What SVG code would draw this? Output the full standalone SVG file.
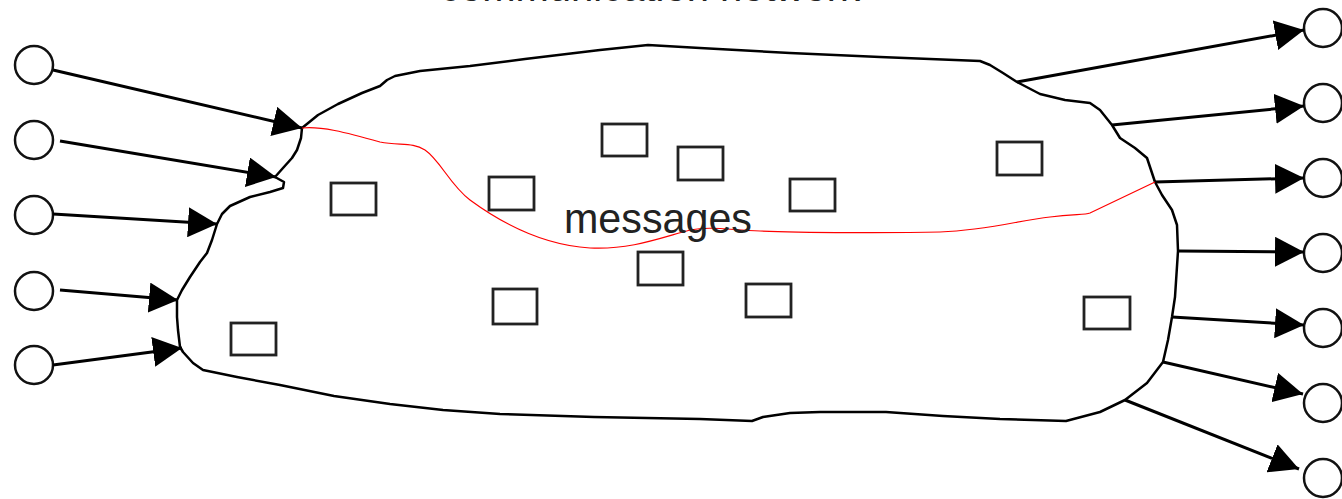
<svg xmlns="http://www.w3.org/2000/svg" width="1342" height="499" viewBox="0 0 1342 499">
<style>
.c{fill:#fff;stroke:#111;stroke-width:2.5}
.b{fill:#fff;stroke:#222;stroke-width:2.8}
.e{stroke:#000;stroke-width:3;fill:none;marker-end:url(#ah)}
.t{font-family:"Liberation Sans",Arial,sans-serif;fill:#222}
</style>
<defs>
<marker id="ah" markerUnits="userSpaceOnUse" markerWidth="30" markerHeight="30" refX="29" refY="15" orient="auto" viewBox="0 0 30 30">
<path d="M0,0 L29,15 L0,30 Z" fill="#000"/>
</marker>
</defs>
<rect width="1342" height="499" fill="#fff"/>
<g id="title"><text class="t" x="440" y="0.5" font-size="42" textLength="420" lengthAdjust="spacingAndGlyphs">communication network</text></g>
<g id="network">
<path fill="none" stroke="#000" stroke-width="2.5" stroke-linejoin="round" d="M302,128 L318,115 L338,104 L362,93 L380,86 L387,80 L395,76 L420,71 L470,66 L525,59 L600,50 L648,45 L700,48 L790,53 L880,57 L980,61 L990,65 L1003,73 L1017,82 L1040,94 L1065,100 L1090,103 L1100,110 L1112,125 L1120,138 L1135,148 L1147,158 L1155,182 L1162,195 L1172,210 L1177,225 L1178,251 L1175,297 L1172,317 L1168,340 L1163,362 L1147,383 L1125,400 L1100,412 L1066,421 L1000,419 L943,416 L886,412 L820,412 L790,413 L763,417 L752,421 L700,419 L594,417 L500,414 L443,410 L390,404 L334,396 L280,385 L237,377 L203,370 L193,363 L183,352 L180,347 L178,330 L177,317 L177,300 L182,290 L190,277 L200,262 L207,253 L212,240 L217,224 L222,214 L230,206 L250,197 L270,192 L283,188 L284,182 L275,177 L283,168 L292,158 L297,150 L301,138 Z"/>
</g>
<g id="route">
<path fill="none" stroke="#f00" stroke-width="1.2" d="M302,128 C320,126 345,132 380,142 C400,146 412,142 425,150 C440,160 450,185 470,200 C500,222 540,245 590,248 C630,250 660,238 690,230 C710,226 730,230 760,231 C800,233 900,233 940,232 C990,230 1020,220 1050,217 C1075,214 1085,215 1090,213 L1155,182"/>
</g>
<g id="label"><text class="t" x="564" y="233" font-size="43" textLength="188" lengthAdjust="spacingAndGlyphs">messages</text></g>
<g id="messages">
<rect id="m1" class="b" x="331" y="183" width="45" height="32"/>
<rect id="m2" class="b" x="489" y="177" width="45" height="33"/>
<rect id="m3" class="b" x="602" y="124" width="45" height="32"/>
<rect id="m4" class="b" x="678" y="147" width="45" height="33"/>
<rect id="m5" class="b" x="790" y="179" width="45" height="32"/>
<rect id="m6" class="b" x="997" y="142" width="45" height="33"/>
<rect id="m7" class="b" x="638" y="252" width="45" height="33"/>
<rect id="m8" class="b" x="493" y="289" width="44" height="35"/>
<rect id="m9" class="b" x="746" y="284" width="45" height="33"/>
<rect id="m10" class="b" x="231" y="323" width="45" height="32"/>
<rect id="m11" class="b" x="1084" y="297" width="46" height="32"/>
</g>
<g id="in1"><circle class="c" cx="34" cy="65" r="19"/></g>
<g id="in2"><circle class="c" cx="34" cy="140" r="19"/></g>
<g id="in3"><circle class="c" cx="34" cy="215" r="19"/></g>
<g id="in4"><circle class="c" cx="34" cy="291" r="19"/></g>
<g id="in5"><circle class="c" cx="34" cy="365" r="19"/></g>
<g id="out1"><circle class="c" cx="1323" cy="28" r="19"/></g>
<g id="out2"><circle class="c" cx="1323" cy="103" r="19"/></g>
<g id="out3"><circle class="c" cx="1323" cy="178" r="19"/></g>
<g id="out4"><circle class="c" cx="1323" cy="253" r="19"/></g>
<g id="out5"><circle class="c" cx="1323" cy="328" r="19"/></g>
<g id="out6"><circle class="c" cx="1323" cy="403" r="19"/></g>
<g id="out7"><circle class="c" cx="1323" cy="478" r="19"/></g>
<g id="connectors">
<line class="e" x1="53" y1="70" x2="302" y2="128"/>
<line class="e" x1="60" y1="141" x2="276" y2="177"/>
<line class="e" x1="53" y1="214" x2="217" y2="224"/>
<line class="e" x1="60" y1="290" x2="178" y2="300"/>
<line class="e" x1="53" y1="365" x2="182" y2="348"/>
<line class="e" x1="1017" y1="82" x2="1304" y2="30"/>
<line class="e" x1="1112" y1="125" x2="1304" y2="106"/>
<line class="e" x1="1155" y1="182" x2="1304" y2="178"/>
<line class="e" x1="1178" y1="251" x2="1304" y2="252"/>
<line class="e" x1="1172" y1="317" x2="1304" y2="325"/>
<line class="e" x1="1163" y1="362" x2="1303" y2="394"/>
<line class="e" x1="1125" y1="400" x2="1299" y2="469"/>
</g>
</svg>
